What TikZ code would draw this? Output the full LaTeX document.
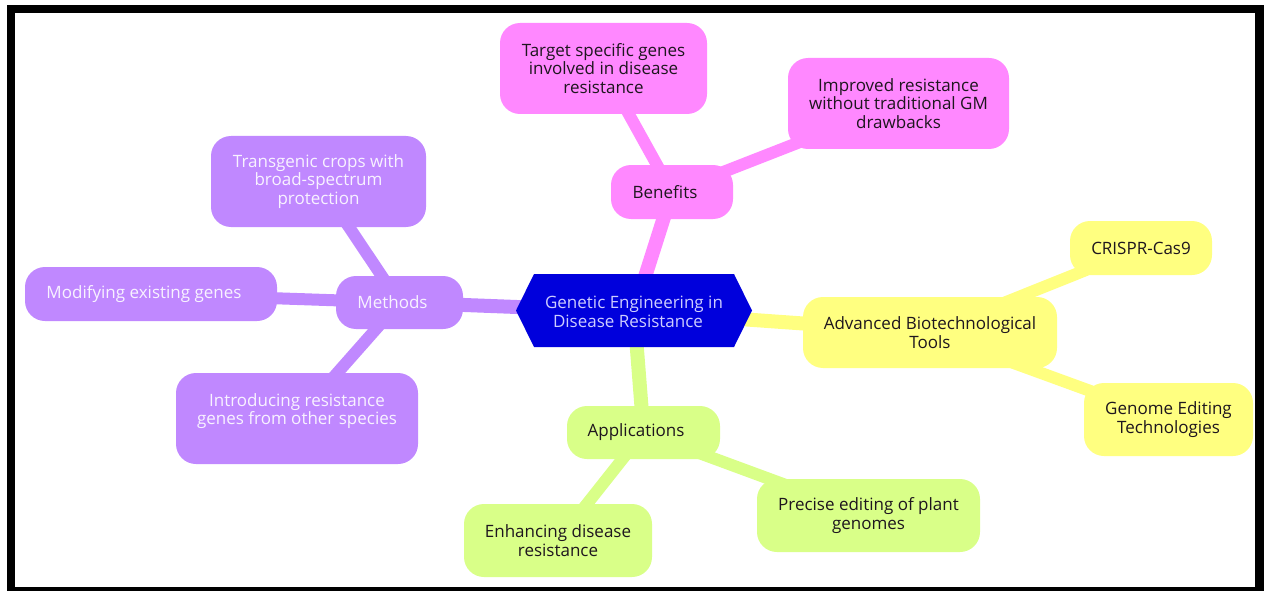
\documentclass[tikz,border=0pt]{standalone}
\usepackage{fontspec}
\setmainfont{Open Sans}
\usetikzlibrary{backgrounds}
\definecolor{pinkc}{RGB}{255,136,255}
\definecolor{yelc}{RGB}{255,255,128}
\definecolor{grnc}{RGB}{217,255,136}
\definecolor{purc}{RGB}{192,136,255}
\definecolor{rootc}{RGB}{0,0,220}
\definecolor{darktext}{RGB}{30,22,30}
\definecolor{lighttext}{RGB}{248,242,255}
\definecolor{roottext}{RGB}{205,205,255}
\begin{document}
\begin{tikzpicture}[x=1pt,y=-1pt,
  box/.style={rounded corners=20pt, inner sep=0pt, align=center,
    font=\fontsize{17pt}{18.7pt}\selectfont},
  pinkbox/.style={box, fill=pinkc, text=darktext},
  yelbox/.style={box, fill=yelc, text=darktext},
  grnbox/.style={box, fill=grnc, text=darktext},
  purbox/.style={box, fill=purc, text=lighttext},
  mainlink/.style={line width=14pt},
  leaflink/.style={line width=12pt},
]
\useasboundingbox (0,0) rectangle (1266,591);
\begin{scope}[on background layer]
  \fill[white] (0,0) rectangle (1266,591);
  \fill[black] (7,5) rectangle (1264,591);
  \fill[white] (15,13) rectangle (1255,587);
\end{scope}

% root
\fill[rootc] (516,310.5) -- (534,274) -- (734,274) -- (752,310.5) -- (734,347) -- (534,347) -- cycle;
\node[inner sep=0pt, align=center, text=roottext, font=\fontsize{17pt}{18.7pt}\selectfont,
  minimum width=236pt, minimum height=73pt] (root) at (634,311.5)
  {Genetic Engineering in\\Disease Resistance\kern12pt};

% benefits
\node[pinkbox, minimum width=122pt, minimum height=54pt] (ben) at (672,192) {Benefits\hspace{14pt}};
\node[pinkbox, minimum width=207pt, minimum height=91pt] (tgt) at (603.5,68.5)
  {Target specific genes\\involved in disease\\resistance};
\node[pinkbox, minimum width=221pt, minimum height=91pt] (imp) at (898.5,103.5)
  {Improved resistance\\without traditional GM\\drawbacks};

% tools
\node[yelbox, minimum width=254pt, minimum height=71pt] (adv) at (930,332.5)
  {Advanced Biotechnological\\Tools};
\node[yelbox, minimum width=142pt, minimum height=54pt] (cri) at (1141,248) {CRISPR-Cas9};
\node[yelbox, minimum width=169pt, minimum height=73pt] (gen) at (1168.5,419.5)
  {Genome Editing\\Technologies};

% applications
\node[grnbox, minimum width=153pt, minimum height=53pt] (app) at (643.5,432.5) {Applications\hspace{15pt}};
\node[grnbox, minimum width=188pt, minimum height=73pt] (enh) at (558,540.5)
  {Enhancing disease\\resistance};
\node[grnbox, minimum width=223pt, minimum height=73pt] (pre) at (868.5,515.5)
  {Precise editing of plant\\genomes};

% methods
\node[purbox, minimum width=127pt, minimum height=53pt] (met) at (399.5,302.5) {Methods\hspace{14pt}};
\node[purbox, minimum width=215pt, minimum height=91pt] (tra) at (318.5,181.5)
  {Transgenic crops with\\broad-spectrum\\protection};
\node[purbox, minimum width=252pt, minimum height=54pt] (mod) at (151,294) {Modifying existing genes\hspace{14pt}};
\node[purbox, minimum width=242pt, minimum height=91pt] (int) at (297,418.5)
  {Introducing resistance\\genes from other species\\\mbox{}};

\begin{scope}[on background layer]
  \draw[pinkc, mainlink] (root.center) -- (ben.center);
  \draw[pinkc, leaflink] (ben.center) -- (tgt.center);
  \draw[pinkc, leaflink] (ben.center) -- (imp.center);
  \draw[yelc, mainlink] (root.center) -- (adv.center);
  \draw[yelc, leaflink] (adv.center) -- (cri.center);
  \draw[yelc, leaflink] (adv.center) -- (gen.center);
  \draw[grnc, mainlink] (root.center) -- (app.center);
  \draw[grnc, leaflink] (app.center) -- (enh.center);
  \draw[grnc, leaflink] (app.center) -- (pre.center);
  \draw[purc, mainlink] (root.center) -- (met.center);
  \draw[purc, leaflink] (met.center) -- (tra.center);
  \draw[purc, leaflink] (met.center) -- (mod.center);
  \draw[purc, leaflink] (met.center) -- (int.center);
\end{scope}
\end{tikzpicture}
\end{document}
